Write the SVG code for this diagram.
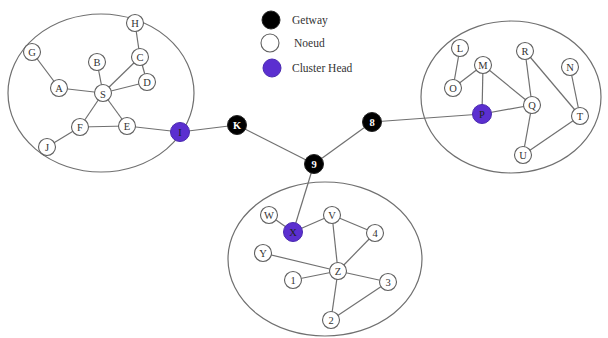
<svg xmlns="http://www.w3.org/2000/svg" width="608" height="338" viewBox="0 0 608 338">
<style>
.cl{fill:none;stroke:#707070;stroke-width:1.2}
.e{stroke:#707070;stroke-width:1.2;fill:none}
.n{fill:#fff;stroke:#606060;stroke-width:1.1}
.g{fill:#000;stroke:#222;stroke-width:1}
.h{fill:#5b2fd0;stroke:#4a2ab0;stroke-width:1}
text{font-family:"Liberation Serif","Times New Roman",serif;font-size:10.5px;text-anchor:middle;dominant-baseline:central;fill:#333}
.w{fill:#fff;font-weight:bold}
.hl{fill:#222}
.lg{font-size:11.5px;text-anchor:start;fill:#333}
</style>
<rect width="608" height="338" fill="#fff"/>
<g id="clusters">
<ellipse class="cl" cx="101" cy="93" rx="93" ry="79"/>
<ellipse class="cl" cx="511" cy="97" rx="90" ry="76"/>
<ellipse class="cl" cx="325" cy="259" rx="97" ry="77"/>
</g>
<g id="connectors">
<line class="e" x1="32" y1="52" x2="59" y2="88"/>
<line class="e" x1="59" y1="88" x2="103" y2="93"/>
<line class="e" x1="97" y1="62" x2="103" y2="93"/>
<line class="e" x1="103" y1="93" x2="140" y2="57"/>
<line class="e" x1="140" y1="57" x2="135" y2="23"/>
<line class="e" x1="140" y1="57" x2="147" y2="82"/>
<line class="e" x1="103" y1="93" x2="147" y2="82"/>
<line class="e" x1="103" y1="93" x2="80" y2="127"/>
<line class="e" x1="103" y1="93" x2="127" y2="126"/>
<line class="e" x1="80" y1="127" x2="127" y2="126"/>
<line class="e" x1="80" y1="127" x2="47" y2="147"/>
<line class="e" x1="127" y1="126" x2="180" y2="132"/>
<line class="e" x1="180" y1="132" x2="237" y2="125"/>
<line class="e" x1="237" y1="125" x2="314" y2="164"/>
<line class="e" x1="314" y1="164" x2="372" y2="122"/>
<line class="e" x1="372" y1="122" x2="482" y2="114"/>
<line class="e" x1="314" y1="164" x2="293" y2="232"/>
<line class="e" x1="460" y1="48" x2="453" y2="88"/>
<line class="e" x1="453" y1="88" x2="483" y2="65"/>
<line class="e" x1="483" y1="65" x2="482" y2="114"/>
<line class="e" x1="483" y1="65" x2="532" y2="105"/>
<line class="e" x1="482" y1="114" x2="532" y2="105"/>
<line class="e" x1="525" y1="51" x2="532" y2="105"/>
<line class="e" x1="525" y1="51" x2="580" y2="116"/>
<line class="e" x1="570" y1="67" x2="580" y2="116"/>
<line class="e" x1="532" y1="105" x2="523" y2="155"/>
<line class="e" x1="523" y1="155" x2="580" y2="116"/>
<line class="e" x1="269" y1="215" x2="293" y2="232"/>
<line class="e" x1="293" y1="232" x2="332" y2="215"/>
<line class="e" x1="332" y1="215" x2="338" y2="271"/>
<line class="e" x1="332" y1="215" x2="375" y2="233"/>
<line class="e" x1="375" y1="233" x2="338" y2="271"/>
<line class="e" x1="263" y1="253" x2="338" y2="271"/>
<line class="e" x1="293" y1="280" x2="338" y2="271"/>
<line class="e" x1="338" y1="271" x2="388" y2="282"/>
<line class="e" x1="338" y1="271" x2="331" y2="320"/>
<line class="e" x1="331" y1="320" x2="388" y2="282"/>
</g>
<g id="legend">
<circle class="g" cx="271" cy="20" r="9"/><text class="lg" x="292" y="20">Getway</text>
<circle class="n" cx="270" cy="43" r="9"/><text class="lg" x="294" y="43">Noeud</text>
<circle class="h" cx="272" cy="68" r="9"/><text class="lg" x="292" y="68">Cluster Head</text>
</g>
<g id="node-G"><circle class="n" cx="32" cy="52" r="8.5"/><text x="32" y="52">G</text></g>
<g id="node-H"><circle class="n" cx="135" cy="23" r="8.5"/><text x="135" y="23">H</text></g>
<g id="node-B"><circle class="n" cx="97" cy="62" r="8.5"/><text x="97" y="62">B</text></g>
<g id="node-C"><circle class="n" cx="140" cy="57" r="8.5"/><text x="140" y="57">C</text></g>
<g id="node-D"><circle class="n" cx="147" cy="82" r="8.5"/><text x="147" y="82">D</text></g>
<g id="node-A"><circle class="n" cx="59" cy="88" r="8.5"/><text x="59" y="88">A</text></g>
<g id="node-S"><circle class="n" cx="103" cy="93" r="8.5"/><text x="103" y="94">S</text></g>
<g id="node-F"><circle class="n" cx="80" cy="127" r="8.5"/><text x="80" y="127">F</text></g>
<g id="node-E"><circle class="n" cx="127" cy="126" r="8.5"/><text x="127" y="126">E</text></g>
<g id="node-J"><circle class="n" cx="47" cy="147" r="8.5"/><text x="47" y="147">J</text></g>
<g id="node-I"><circle class="h" cx="180" cy="132" r="9.5"/><text class="hl" x="180" y="132">I</text></g>
<g id="node-K"><circle class="g" cx="237" cy="125" r="9.5"/><text class="w" x="237" y="125">K</text></g>
<g id="node-9"><circle class="g" cx="314" cy="164" r="9.5"/><text class="w" x="314" y="164">9</text></g>
<g id="node-8"><circle class="g" cx="372" cy="122" r="9.5"/><text class="w" x="372" y="122">8</text></g>
<g id="node-L"><circle class="n" cx="460" cy="48" r="8.5"/><text x="460" y="48">L</text></g>
<g id="node-M"><circle class="n" cx="483" cy="65" r="8.5"/><text x="483" y="65">M</text></g>
<g id="node-R"><circle class="n" cx="525" cy="51" r="8.5"/><text x="525" y="51">R</text></g>
<g id="node-N"><circle class="n" cx="570" cy="67" r="8.5"/><text x="570" y="67">N</text></g>
<g id="node-O"><circle class="n" cx="453" cy="88" r="8.5"/><text x="453" y="88">O</text></g>
<g id="node-Q"><circle class="n" cx="532" cy="105" r="8.5"/><text x="532" y="105">Q</text></g>
<g id="node-P"><circle class="h" cx="482" cy="114" r="9.5"/><text class="hl" x="482" y="114">P</text></g>
<g id="node-T"><circle class="n" cx="580" cy="116" r="8.5"/><text x="580" y="116">T</text></g>
<g id="node-U"><circle class="n" cx="523" cy="155" r="8.5"/><text x="523" y="155">U</text></g>
<g id="node-W"><circle class="n" cx="269" cy="215" r="8.5"/><text x="269" y="215">W</text></g>
<g id="node-X"><circle class="h" cx="293" cy="232" r="9.5"/><text class="hl" x="293" y="232">X</text></g>
<g id="node-V"><circle class="n" cx="332" cy="215" r="8.5"/><text x="332" y="215">V</text></g>
<g id="node-4"><circle class="n" cx="375" cy="233" r="8.5"/><text x="375" y="233">4</text></g>
<g id="node-Y"><circle class="n" cx="263" cy="253" r="8.5"/><text x="263" y="253">Y</text></g>
<g id="node-Z"><circle class="n" cx="338" cy="271" r="8.5"/><text x="338" y="271">Z</text></g>
<g id="node-1"><circle class="n" cx="293" cy="280" r="8.5"/><text x="293" y="280">1</text></g>
<g id="node-3"><circle class="n" cx="388" cy="282" r="8.5"/><text x="388" y="282">3</text></g>
<g id="node-2"><circle class="n" cx="331" cy="320" r="8.5"/><text x="331" y="320">2</text></g>
</svg>
